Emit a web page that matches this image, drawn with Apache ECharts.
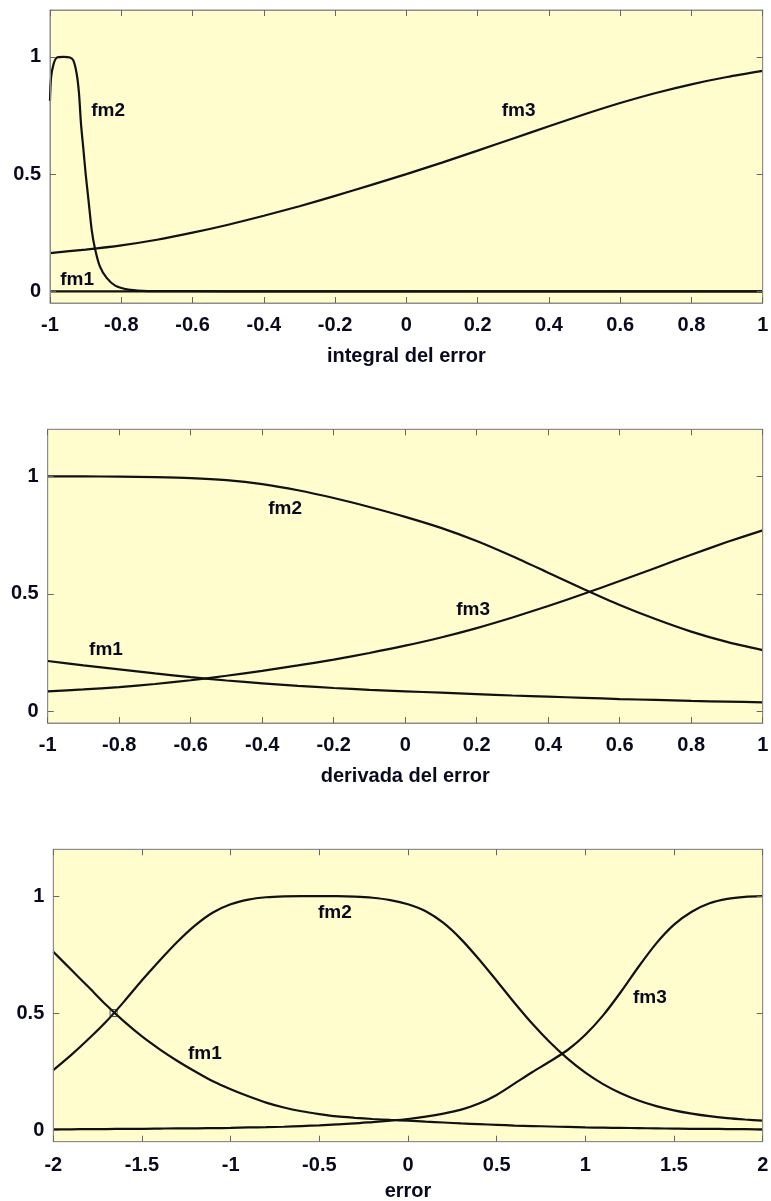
<!DOCTYPE html>
<html>
<head>
<meta charset="utf-8">
<script src="https://cdn.jsdelivr.net/npm/echarts@6/dist/echarts.min.js"></script>
<style>
html,body{margin:0;padding:0;background:#fff;}
#chart{width:771px;height:1201px;}
</style>
</head>
<body>
<div id="chart"></div>
<script>
// ---------- Data ----------
// Plot 1: integral del error
const topFm1X = [-1, -0.5, 0, 0.5, 1];
const topFm1Y = [0, 0, 0, 0, 0];
const topFm2X = [-1, -0.997, -0.99, -0.981, -0.962, -0.944, -0.9345, -0.925, -0.9185, -0.913, -0.906, -0.9, -0.892, -0.883, -0.874, -0.86, -0.841, -0.817, -0.78, -0.74, -0.7, -0.5, 0, 0.5, 1];
const topFm2Y = [0.813, 0.912, 0.969, 0.997, 1.0, 0.997, 0.985, 0.927, 0.842, 0.714, 0.601, 0.502, 0.389, 0.262, 0.184, 0.106, 0.057, 0.024, 0.007, 0.002, 0.001, 0, 0, 0, 0];
const topFm3X = [-1, -0.9, -0.8, -0.7, -0.6, -0.5, -0.4, -0.3, -0.2, -0.1, 0, 0.1, 0.2, 0.3, 0.4, 0.5, 0.6, 0.7, 0.8, 0.9, 1];
const topFm3Y = [0.163, 0.178, 0.196, 0.220, 0.250, 0.284, 0.322, 0.363, 0.407, 0.453, 0.500, 0.549, 0.600, 0.652, 0.704, 0.755, 0.803, 0.846, 0.883, 0.914, 0.940];

// Plot 2: derivada del error
const midX = [-1, -0.9, -0.8, -0.7, -0.6, -0.5, -0.4, -0.3, -0.2, -0.1, 0, 0.1, 0.2, 0.3, 0.4, 0.5, 0.6, 0.7, 0.8, 0.9, 1];
const midFm1 = [0.214, 0.195, 0.178, 0.161, 0.145, 0.131, 0.119, 0.108, 0.099, 0.091, 0.085, 0.079, 0.073, 0.067, 0.062, 0.057, 0.052, 0.048, 0.044, 0.041, 0.038];
const midFm2 = [1.0, 0.9995, 0.9985, 0.9965, 0.9925, 0.9835, 0.9665, 0.9405, 0.9075, 0.8695, 0.8275, 0.7805, 0.7245, 0.6595, 0.5895, 0.5195, 0.4525, 0.3925, 0.339, 0.295, 0.26];
const midFm3 = [0.085, 0.093, 0.103, 0.116, 0.132, 0.151, 0.172, 0.195, 0.220, 0.248, 0.279, 0.314, 0.354, 0.399, 0.448, 0.500, 0.554, 0.610, 0.666, 0.720, 0.770];

// Plot 3: error
const botX = [-2, -1.9, -1.8, -1.7, -1.6, -1.5, -1.4, -1.3, -1.2, -1.1, -1.0, -0.9, -0.8, -0.7, -0.6, -0.5, -0.4, -0.3, -0.2, -0.1, 0, 0.1, 0.2, 0.3, 0.4, 0.5, 0.6, 0.7, 0.8, 0.9, 1.0, 1.1, 1.2, 1.3, 1.4, 1.5, 1.6, 1.7, 1.8, 1.9, 2.0];
const botFm1 = [0.762, 0.686, 0.61, 0.533, 0.463, 0.40, 0.345, 0.295, 0.25, 0.208, 0.174, 0.144, 0.117, 0.096, 0.08, 0.068, 0.058, 0.052, 0.047, 0.043, 0.04, 0.036, 0.032, 0.028, 0.025, 0.022, 0.019, 0.017, 0.015, 0.013, 0.011, 0.01, 0.009, 0.008, 0.007, 0.006, 0.005, 0.005, 0.004, 0.004, 0.003];
const botFm2 = [0.256, 0.32, 0.39, 0.465, 0.55, 0.64, 0.725, 0.805, 0.875, 0.93, 0.965, 0.985, 0.995, 0.999, 1.0, 1.0, 1.0, 0.998, 0.993, 0.983, 0.965, 0.935, 0.885, 0.815, 0.73, 0.638, 0.544, 0.455, 0.375, 0.305, 0.245, 0.196, 0.157, 0.126, 0.102, 0.084, 0.07, 0.059, 0.051, 0.045, 0.04];
const botFm3 = [0.003, 0.003, 0.004, 0.004, 0.005, 0.005, 0.006, 0.007, 0.007, 0.008, 0.009, 0.011, 0.012, 0.014, 0.017, 0.02, 0.024, 0.028, 0.034, 0.04, 0.047, 0.057, 0.07, 0.087, 0.113, 0.15, 0.198, 0.247, 0.293, 0.342, 0.407, 0.49, 0.59, 0.698, 0.798, 0.878, 0.933, 0.969, 0.988, 0.997, 1.0];
const botMarkerX = [-1.66];
const botMarkerY = [0.5];

// Tick labels
const yTicks = [0, 0.5, 1];
const axisNames = ['integral del error', 'derivada del error', 'error'];

// Annotation anchors (data coordinates) for fm labels: [plot, name, x, y]
const labelAnchors = [
  [0, 'fm1', -0.924, 0.05], [0, 'fm2', -0.837, 0.771], [0, 'fm3', 0.315, 0.771],
  [1, 'fm1', -0.837, 0.263], [1, 'fm2', -0.336, 0.863], [1, 'fm3', 0.19, 0.432],
  [2, 'fm1', -1.145, 0.325], [2, 'fm2', -0.412, 0.927], [2, 'fm3', 1.364, 0.564]
];

// ---------- Build ----------
const zip = (xs, ys) => xs.map((x, i) => [x, ys[i]]);
const FONT = "'Liberation Sans', Arial, sans-serif";
const TXT = '#0a0a1e';
const FRAME = '#8c8c8c';
const TICK = '#666666';

const grids = [
  {left: 50, top: 10, width: 712.7, height: 293},
  {left: 47.7, top: 429.3, width: 715, height: 293.7},
  {left: 53.3, top: 849.3, width: 709.4, height: 292.4}
];
const xRanges = [[-1, 1, 0.2], [-1, 1, 0.2], [-2, 2, 0.5]];
const nameGaps = [43, 43, 40];
const labelMargins = [12, 12, 14];

const option = {
  animation: false,
  backgroundColor: '#ffffff',
  grid: grids.map(g => Object.assign({show: true, backgroundColor: '#FFFDCD', borderColor: FRAME, borderWidth: 1, containLabel: false, outerBoundsMode: 'none'}, g)),
  xAxis: [],
  yAxis: [],
  series: []
};

grids.forEach((g, i) => {
  const [mn, mx, iv] = xRanges[i];
  const tickStyle = {show: true, inside: true, length: 6, lineStyle: {color: TICK, width: 1}};
  const frameLine = {show: true, onZero: false, lineStyle: {color: FRAME, width: 1}};
  const ghostLabel = {show: true, inside: true, color: 'rgba(0,0,0,0)', fontSize: 1};
  option.xAxis.push({
    type: 'value', gridIndex: i, min: mn, max: mx, interval: iv, position: 'bottom', z: 10,
    axisLine: frameLine, axisTick: tickStyle, splitLine: {show: false},
    axisLabel: {margin: labelMargins[i], fontFamily: FONT, fontWeight: 'bold', fontSize: 20, color: TXT},
    name: axisNames[i], nameLocation: 'middle', nameGap: nameGaps[i],
    nameTextStyle: {fontFamily: FONT, fontWeight: 'bold', fontSize: 20, color: TXT}
  });
  option.xAxis.push({
    type: 'value', gridIndex: i, min: mn, max: mx, interval: iv, position: 'top', z: 10,
    axisLine: frameLine, axisTick: tickStyle, splitLine: {show: false},
    axisLabel: ghostLabel
  });
  option.yAxis.push({
    type: 'value', gridIndex: i, min: -0.05, max: 1.2, position: 'left', z: 10,
    axisLine: frameLine, splitLine: {show: false},
    axisTick: Object.assign({customValues: yTicks}, tickStyle),
    axisLabel: {customValues: yTicks, margin: 9, fontFamily: FONT, fontWeight: 'bold', fontSize: 20, color: TXT}
  });
  option.yAxis.push({
    type: 'value', gridIndex: i, min: -0.05, max: 1.2, position: 'right', z: 10,
    axisLine: frameLine, splitLine: {show: false},
    axisTick: Object.assign({customValues: yTicks}, tickStyle),
    axisLabel: Object.assign({customValues: yTicks}, ghostLabel)
  });
});

const lineSeries = (gi, name, data) => ({
  type: 'line', name, xAxisIndex: gi * 2, yAxisIndex: gi * 2, data,
  showSymbol: false, symbol: 'none', smooth: 0.25,
  lineStyle: {color: '#111111', width: 2.2}, z: 3
});

option.series.push(lineSeries(0, 'fm1', zip(topFm1X, topFm1Y)));
option.series.push(lineSeries(0, 'fm2', zip(topFm2X, topFm2Y)));
option.series.push(lineSeries(0, 'fm3', zip(topFm3X, topFm3Y)));
option.series.push(lineSeries(1, 'fm1', zip(midX, midFm1)));
option.series.push(lineSeries(1, 'fm2', zip(midX, midFm2)));
option.series.push(lineSeries(1, 'fm3', zip(midX, midFm3)));
option.series.push(lineSeries(2, 'fm1', zip(botX, botFm1)));
option.series.push(lineSeries(2, 'fm2', zip(botX, botFm2)));
option.series.push(lineSeries(2, 'fm3', zip(botX, botFm3)));

option.series.push({
  type: 'scatter', xAxisIndex: 4, yAxisIndex: 4, data: zip(botMarkerX, botMarkerY),
  symbol: 'rect', symbolSize: 7,
  itemStyle: {color: 'rgba(0,0,0,0)', borderColor: '#222', borderWidth: 1}, z: 5
});

[0, 1, 2].forEach(gi => {
  option.series.push({
    type: 'scatter', xAxisIndex: gi * 2, yAxisIndex: gi * 2, symbolSize: 0, z: 6,
    data: labelAnchors.filter(a => a[0] === gi).map(a => ({name: a[1], value: [a[2], a[3]]})),
    label: {show: true, position: 'inside', formatter: '{b}', fontFamily: FONT, fontWeight: 'bold', fontSize: 19, color: TXT, textBorderWidth: 0, opacity: 1},
    emphasis: {disabled: true}
  });
});

const chart = echarts.init(document.getElementById('chart'), null, {renderer: 'canvas'});
chart.setOption(option);
</script>
</body>
</html>
